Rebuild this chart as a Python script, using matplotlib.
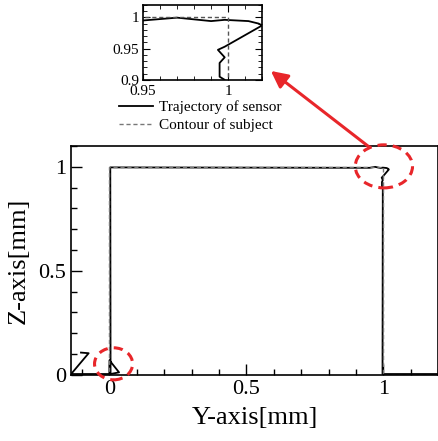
import matplotlib
matplotlib.use('Agg')
import matplotlib.pyplot as plt
from matplotlib.patches import Ellipse
from matplotlib.ticker import MultipleLocator, FuncFormatter

plt.rcParams['font.family'] = ['Liberation Serif', 'DejaVu Serif']
plt.rcParams['mathtext.fontset'] = 'stix'

# траектория датчика (Y, Z), мм
traj_y = [-0.104, -0.076, -0.14, 0.0, 0.0, 0.035, 0.004, 0.003,
          0.95, 0.97, 0.99, 0.998, 1.012, 1.018, 1.020,
          0.998, 0.994, 0.998, 0.995, 0.995, 0.998, 0.997, 1.2]
traj_z = [0.107, 0.104, 0.004, 0.004, 0.07, 0.012, 0.004, 0.997,
          0.995, 0.9995, 0.994, 0.996, 0.994, 0.990, 0.987,
          0.953, 0.948, 0.936, 0.927, 0.905, 0.900, 0.004, 0.004]

# контур объекта
cont_y = [-0.14, 0.0, 0.0, 1.0, 1.0, 1.2]
cont_z = [0.0, 0.0, 1.0, 1.0, 0.0, 0.0]

fmt = FuncFormatter(lambda v, p: '%g' % round(v, 4))

fig = plt.figure(figsize=(4.39, 4.41), dpi=100)

# основной график
ax = fig.add_axes([0.162, 0.150, 0.836, 0.519])
ax.plot(traj_y, traj_z, color='black', lw=1.3, label='Trajectory of sensor')
ax.plot(cont_y, cont_z, color='#777777', lw=1.0, ls=(0, (3, 2)), label='Contour of subject')
ax.set_xlim(-0.14, 1.2)
ax.set_ylim(0, 1.1)
ax.xaxis.set_major_locator(MultipleLocator(0.5))
ax.xaxis.set_minor_locator(MultipleLocator(0.1))
ax.yaxis.set_major_locator(MultipleLocator(0.5))
ax.yaxis.set_minor_locator(MultipleLocator(0.1))
ax.xaxis.set_major_formatter(fmt)
ax.yaxis.set_major_formatter(fmt)
ax.tick_params(which='both', direction='in', labelsize=16, width=1)
ax.tick_params(which='major', length=8)
ax.tick_params(which='minor', length=4)
ax.set_xlabel('Y-axis[mm]', fontsize=19, labelpad=6)
ax.set_ylabel('Z-axis[mm]', fontsize=19, labelpad=6)
for s in ax.spines.values():
    s.set_linewidth(1.2)

# красные пунктирные эллипсы
for c, w, h in [((1.002, 1.002), 0.209, 0.207), ((0.015, 0.053), 0.139, 0.154)]:
    e = Ellipse(c, w, h, fill=False, edgecolor='#e8262a', lw=2.2,
                ls=(0, (3, 2)), clip_on=False, zorder=5)
    ax.add_patch(e)

# врезка
axi = fig.add_axes([0.326, 0.819, 0.271, 0.170])
axi.plot(traj_y, traj_z, color='black', lw=1.3)
axi.plot(cont_y, cont_z, color='#555555', lw=1.0, ls=(0, (3, 2)))
axi.set_xlim(0.95, 1.02)
axi.set_ylim(0.9, 1.02)
axi.xaxis.set_major_locator(MultipleLocator(0.05))
axi.xaxis.set_minor_locator(MultipleLocator(0.01))
axi.yaxis.set_major_locator(MultipleLocator(0.05))
axi.yaxis.set_minor_locator(MultipleLocator(0.01))
axi.xaxis.set_major_formatter(fmt)
axi.yaxis.set_major_formatter(fmt)
axi.tick_params(which='both', direction='in', top=True, right=True, labelsize=11)
axi.tick_params(axis='x', pad=4)
axi.tick_params(axis='y', pad=3)
axi.tick_params(which='major', length=5)
axi.tick_params(which='minor', length=3)
for s in axi.spines.values():
    s.set_linewidth(1.2)

# легенда
h, l = ax.get_legend_handles_labels()
fig.legend(h, l, loc='upper left', bbox_to_anchor=(0.272, 0.772), frameon=False,
           fontsize=11, handlelength=2.2, handletextpad=0.4, labelspacing=0.25,
           borderpad=0, borderaxespad=0)

# красная стрелка
ax.annotate('', xy=(0.612, 0.843), xycoords='figure fraction',
            xytext=(0.847, 0.662), textcoords='figure fraction',
            arrowprops=dict(arrowstyle='-|>,head_length=1.0,head_width=0.5',
                            color='#e8262a', lw=2.2))

plt.savefig('out.png', dpi=100)
